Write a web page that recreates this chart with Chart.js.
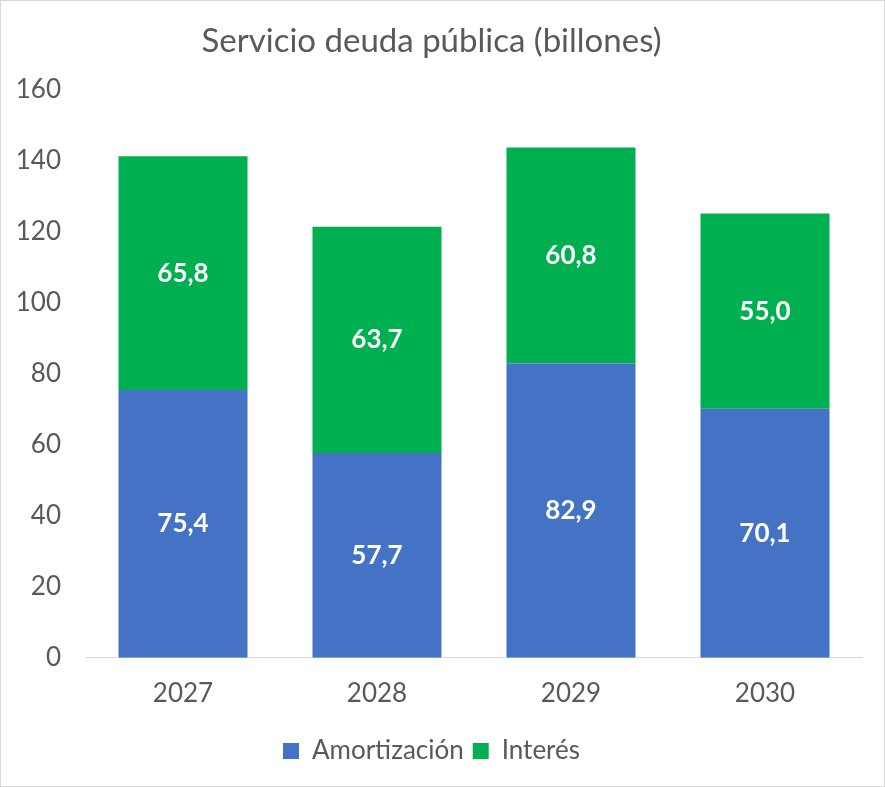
<!DOCTYPE html>
<html>
<head>
<meta charset="utf-8">
<script src="https://cdn.jsdelivr.net/npm/chart.js@4/dist/chart.umd.min.js"></script>
<style>
  html, body { margin: 0; padding: 0; background: #fff; }
  #wrap { width: 885px; height: 787px; box-sizing: border-box; border: 1px solid #d9d9d9; }
  canvas { display: block; }
</style>
</head>
<body>
<div id="wrap"><canvas id="chart" width="883" height="785"></canvas></div>
<script>
const years = ['2027', '2028', '2029', '2030'];
const amortizacion = [75.4, 57.7, 82.9, 70.1];
const interes = [65.8, 63.7, 60.8, 55.0];
const yTicks = [0, 20, 40, 60, 80, 100, 120, 140, 160];

const fontFamily = 'Lato, "Open Sans", sans-serif';

// draws white value labels in the middle of each stacked segment
const barLabels = {
    id: 'barLabels',
    afterDatasetsDraw(chart) {
        const ctx = chart.ctx;
        ctx.save();
        ctx.fillStyle = '#ffffff';
        ctx.font = 'bold 26px ' + fontFamily;
        ctx.textAlign = 'center';
        ctx.textBaseline = 'middle';
        chart.data.datasets.forEach((ds, i) => {
            const meta = chart.getDatasetMeta(i);
            meta.data.forEach((bar, j) => {
                const mid = (bar.y + bar.base) / 2;
                ctx.fillText(ds.data[j].toFixed(1).replace('.', ','), bar.x, mid);
            });
        });
        ctx.restore();
    }
};

new Chart(document.getElementById('chart').getContext('2d'), {
    type: 'bar',
    data: {
        labels: years,
        datasets: [{
            label: 'Amortización',
            data: amortizacion,
            backgroundColor: '#4472C4',
            categoryPercentage: 0.665,
            barPercentage: 1
        }, {
            label: 'Interés',
            data: interes,
            backgroundColor: '#00B050',
            categoryPercentage: 0.665,
            barPercentage: 1
        }]
    },
    options: {
        responsive: false,
        animation: false,
        layout: { padding: { left: 0, right: 22, top: 0, bottom: 12 } },
        plugins: {
            title: {
                display: true,
                text: 'Servicio deuda pública (billones)',
                color: '#595959',
                font: { family: fontFamily, size: 33, weight: 'normal' },
                padding: { top: 21, bottom: 28 }
            },
            legend: {
                position: 'bottom',
                labels: {
                    color: '#595959',
                    font: { family: fontFamily, size: 26 },
                    boxWidth: 16,
                    boxHeight: 16,
                    padding: 9
                }
            },
            tooltip: { enabled: false }
        },
        scales: {
            x: {
                stacked: true,
                grid: { display: false, drawTicks: false },
                border: { display: true, color: '#d9d9d9', width: 1 },
                ticks: { color: '#595959', font: { family: fontFamily, size: 26 }, padding: 20 }
            },
            y: {
                stacked: true,
                min: 0,
                max: 160,
                afterFit(scale) { scale.width = 85; },
                afterBuildTicks(scale) { scale.ticks = yTicks.map(v => ({ value: v })); },
                grid: { display: false, drawTicks: false },
                border: { display: false },
                ticks: { color: '#595959', font: { family: fontFamily, size: 26 }, padding: 25 }
            }
        }
    },
    plugins: [barLabels]
});
</script>
</body>
</html>
